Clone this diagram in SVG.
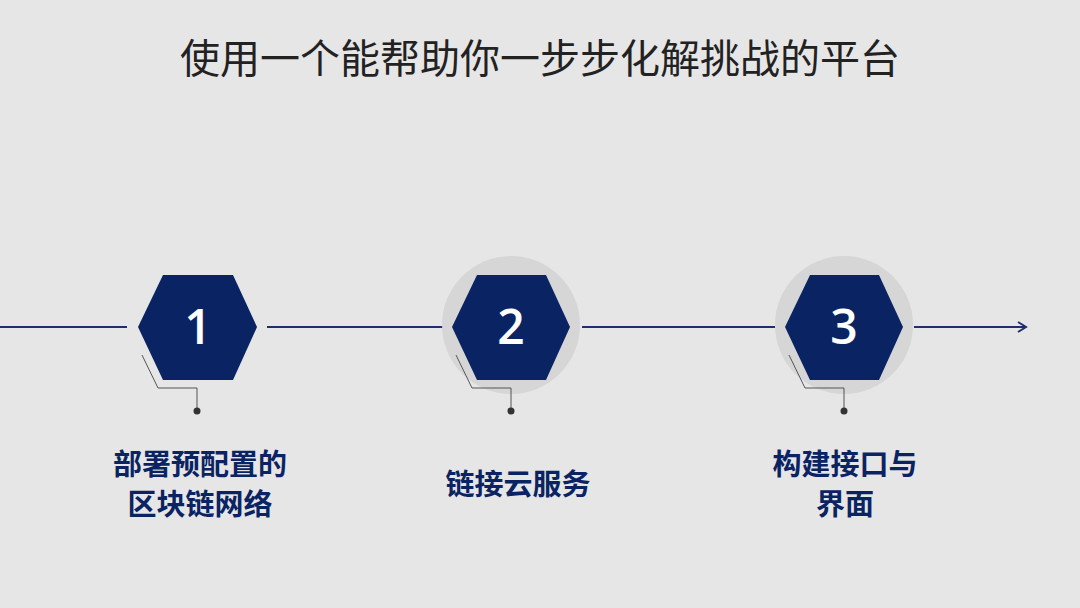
<svg xmlns="http://www.w3.org/2000/svg" width="1080" height="608" viewBox="0 0 1080 608">
<defs><style>
.ln{stroke:#1f2f6e;stroke-width:2;fill:none}
.th{stroke:#555;stroke-width:1;fill:none}
.hex{fill:#0a2463}
.num{font-family:"Open Sans","Liberation Sans",sans-serif;font-size:48px;font-weight:600;fill:#fff;text-anchor:middle}
.lbl{font-family:"Noto Sans CJK SC",sans-serif;font-size:29px;font-weight:bold;fill:#0a2463;text-anchor:middle}
</style>
<marker id="ar" markerWidth="12" markerHeight="12" refX="10" refY="6" orient="auto" markerUnits="userSpaceOnUse"><path d="M2,1 L10,6 L2,11" stroke="#1f2f6e" stroke-width="2" fill="none"/></marker>
</defs>
<rect width="1080" height="608" fill="#e6e6e6"/>
<text x="540" y="73" font-family="Noto Sans CJK SC,sans-serif" font-size="40" fill="#222" text-anchor="middle">使用一个能帮助你一步步化解挑战的平台</text>
<g id="connectors">
<line class="ln" x1="0" y1="327" x2="127" y2="327"/>
<line class="ln" x1="267" y1="327" x2="443" y2="327"/>
<line class="ln" x1="582" y1="327" x2="775" y2="327"/>
<line class="ln" x1="914" y1="327" x2="1026" y2="327" marker-end="url(#ar)"/>
</g>
<g id="node1">
<polygon class="hex" points="138,327 163,275 233,275 257,327 233,380 163,380"/>
<text class="num" x="198" y="344">1</text>
<polyline class="th" points="142,355 158,388 197,388 197,411"/><circle cx="197" cy="411" r="3.5" fill="#333"/>
<text class="lbl" x="200" y="475">部署预配置的</text><text class="lbl" x="200" y="515">区块链网络</text>
</g>
<g id="node2">
<circle cx="511" cy="325" r="69" fill="#d6d6d6"/>
<polygon class="hex" points="452,327 477,275 546,275 570,327 546,380 477,380"/>
<text class="num" x="511" y="344">2</text>
<polyline class="th" points="456,355 472,388 511,388 511,411"/><circle cx="511" cy="411" r="3.5" fill="#333"/>
<text class="lbl" x="518" y="495">链接云服务</text>
</g>
<g id="node3">
<circle cx="844" cy="325" r="69" fill="#d6d6d6"/>
<polygon class="hex" points="785,327 810,275 879,275 903,327 879,380 810,380"/>
<text class="num" x="844" y="344">3</text>
<polyline class="th" points="789,355 805,388 844,388 844,411"/><circle cx="844" cy="411" r="3.5" fill="#333"/>
<text class="lbl" x="845" y="475">构建接口与</text><text class="lbl" x="845" y="515">界面</text>
</g>
</svg>
